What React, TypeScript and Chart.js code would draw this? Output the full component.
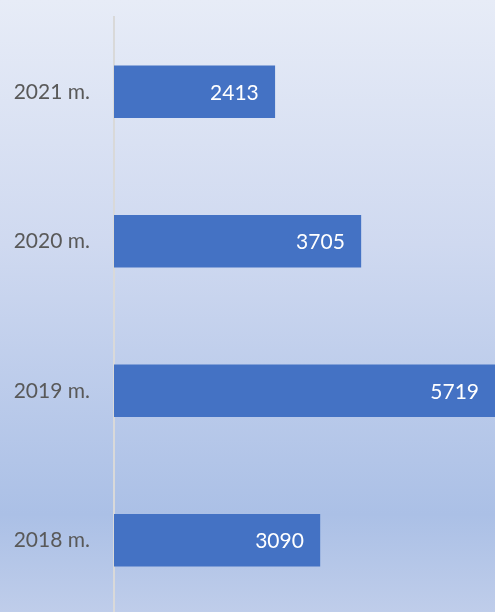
import React, { useEffect, useRef } from "react";
import { Chart, registerables } from "chart.js";

Chart.register(...registerables);

const categories = ["2021 m.", "2020 m.", "2019 m.", "2018 m."];
const values = [2413, 3705, 5719, 3090];

const FONT = "Lato, 'Open Sans', sans-serif";

const valueLabels = {
  id: "valueLabels",
  afterDatasetsDraw(chart: any) {
    const ctx = chart.ctx;
    const meta = chart.getDatasetMeta(0);
    ctx.save();
    ctx.fillStyle = "#ffffff";
    ctx.font = `21px ${FONT}`;
    ctx.textAlign = "right";
    ctx.textBaseline = "middle";
    meta.data.forEach((bar: any, i: number) => {
      ctx.fillText(String(values[i]), bar.x - 16, bar.y + 1);
    });
    ctx.restore();
  },
};

export default function App() {
  const ref = useRef<HTMLCanvasElement>(null);
  useEffect(() => {
    if (!ref.current) return;
    const chart = new Chart(ref.current, {
      type: "bar",
      data: {
        labels: categories,
        datasets: [
          {
            data: values,
            backgroundColor: "#4472C4",
            borderWidth: 0,
            barThickness: 52,
          },
        ],
      },
      options: {
        indexAxis: "y",
        responsive: false,
        animation: false,
        maintainAspectRatio: false,
        layout: { padding: { top: 17, left: 0, right: 0, bottom: 0 } },
        plugins: { legend: { display: false }, tooltip: { enabled: false } },
        scales: {
          x: { display: false, min: 0, max: 5719 },
          y: {
            grid: { display: false },
            border: { display: true, color: "#d9d9d9", width: 2 },
            ticks: {
              color: "#595959",
              font: { family: FONT, size: 21 },
              padding: 16,
            },
            afterFit(scale: any) {
              scale.width = 114;
              scale.paddingTop = 0;
              scale.paddingBottom = 0;
            },
          },
        },
      },
      plugins: [valueLabels],
    });
    return () => chart.destroy();
  }, []);
  return (
    <div
      style={{
        position: "fixed",
        left: 0,
        top: 0,
        width: 495,
        height: 612,
        overflow: "hidden",
        background:
          "linear-gradient(180deg, #e7ecf7 0%, #cfd9f0 40%, #abc0e6 84%, #bfcdea 100%)",
      }}
    >
      <canvas ref={ref} width={495} height={615} style={{ display: "block" }} />
    </div>
  );
}
